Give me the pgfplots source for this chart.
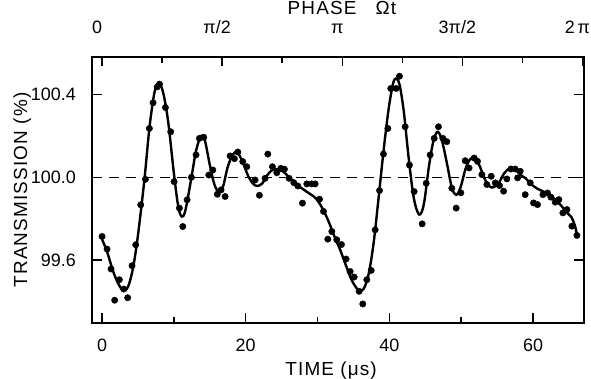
\documentclass[border=0pt]{standalone}
\usepackage{fontspec}
\setmainfont{Liberation Sans}
\newfontfamily\tkfont{Liberation Sans}
\newfontfamily\labfont[LetterSpace=6]{Liberation Sans}
\usepackage{pgfplots}
\pgfplotsset{compat=1.18}
\begin{document}
\begin{tikzpicture}
\path[use as bounding box] (-92bp,-56bp) rectangle (499bp,323bp);
\begin{axis}[
  at={(0,0)}, anchor=south west,
  scale only axis, width=492bp, height=266bp,
  xmin=-1.4, xmax=67.1, ymin=99.296, ymax=100.581,
  axis line style={line width=1.7bp},
  xtick={0,20,40,60}, minor xtick={10,30,50}, xtick pos=left,
  ytick={99.6,100.0,100.4}, yticklabels={,,}, ytick pos=both,
  tick align=inside,
  major tick length=10bp, minor tick length=6bp,
  every tick/.style={black, line width=1.4bp},
  xticklabels={0,20,40,60},
  xticklabel style={font=\fontsize{18}{20}\tkfont, anchor=base, yshift=-28bp},
  xlabel={TIME (μs)},
  xlabel style={at={(axis description cs:0.486,-0.199)}, anchor=base, font=\fontsize{19}{22}\labfont},
  ylabel={TRANSMISSION (\%)},
  ylabel style={at={(axis description cs:-0.132,0.5)}, anchor=base, font=\fontsize{19}{22}\labfont},
  clip=true,
]
\addplot[black, line width=1.2bp, dash pattern=on 10bp off 7bp] coordinates {(-1.4,100) (67.1,100)};
\addplot[black, line width=2.4bp, smooth, tension=0.55] coordinates {
(0.0,99.70) (0.7,99.64) (1.5,99.55) (2.2,99.49) (2.9,99.455) (3.6,99.47) (4.3,99.56) (5.0,99.72)
(5.9,99.99) (6.6,100.24) (7.3,100.41) (7.9,100.456) (8.5,100.41) (9.2,100.27) (10.0,100.02)
(10.6,99.86) (11.1,99.81) (11.6,99.84) (12.4,99.99) (13.1,100.13) (13.8,100.20) (14.3,100.18)
(15.0,100.06) (15.6,99.97) (16.2,99.93) (16.8,99.95) (17.5,100.05) (18.2,100.11) (18.8,100.12)
(19.5,100.08) (20.3,100.01) (21.0,99.97) (21.6,99.958) (22.3,99.97) (23.0,100.01) (23.7,100.035)
(24.5,100.038) (25.3,100.025) (26.2,99.995) (27.3,99.96) (28.5,99.93) (29.7,99.90) (30.6,99.855)
(31.5,99.79) (32.4,99.71) (33.2,99.645) (34.0,99.57) (34.8,99.50) (35.7,99.455) (36.4,99.46)
(37.1,99.53) (37.8,99.68) (38.5,99.90) (39.2,100.13) (39.9,100.33) (40.5,100.45) (40.9,100.477)
(41.4,100.45) (42.0,100.32) (42.7,100.09) (43.4,99.90) (44.15,99.82) (44.8,99.87) (45.5,100.05)
(46.1,100.17) (46.7,100.22) (47.3,100.18) (48.0,100.07) (48.7,99.95) (49.3,99.915) (49.9,99.95)
(50.6,100.04) (51.2,100.085) (51.8,100.096) (52.5,100.06) (53.3,99.99) (54.0,99.955) (54.5,99.952)
(55.2,99.97) (56.0,100.02) (56.85,100.045) (57.6,100.035) (58.3,100.01) (58.9,99.997) (59.8,99.965)
(60.6,99.945) (61.5,99.93) (62.5,99.91) (63.3,99.885) (64.0,99.86) (64.7,99.83) (65.3,99.81)
(65.8,99.77) (66.1,99.725)
};
\addplot[only marks, mark=*, mark size=3.2bp, black] coordinates {
(0.00,99.714) (0.70,99.653) (1.25,99.557) (1.76,99.406) (2.41,99.505) (3.02,99.460) (3.57,99.418)
(4.18,99.573) (4.69,99.674) (5.38,99.867) (6.04,99.990) (6.59,100.236) (7.10,100.360) (7.70,100.437)
(8.00,100.450) (8.82,100.337) (9.56,100.220) (10.03,99.979) (10.77,99.851) (11.24,99.762)
(11.84,99.891) (12.44,100.000) (13.09,100.108) (13.55,100.188) (14.16,100.193) (14.86,100.011)
(15.42,100.035) (16.05,99.918) (16.57,99.939) (17.13,99.907) (17.83,100.103) (18.43,100.090)
(18.90,100.122) (19.59,100.076) (20.15,100.051) (21.31,99.987) (21.91,99.913) (22.70,99.995)
(23.08,100.112) (23.72,100.051) (24.33,100.022) (24.88,100.043) (25.39,100.039) (26.04,99.995)
(26.69,99.974) (27.25,99.958) (27.90,99.875) (28.51,99.968) (29.20,99.968) (29.67,99.968)
(30.27,99.894) (30.83,99.835) (31.43,99.701) (31.99,99.738) (32.68,99.698) (33.33,99.675)
(33.98,99.605) (34.54,99.545) (35.10,99.518) (35.79,99.449) (36.30,99.388) (36.86,99.505)
(37.47,99.550) (38.02,99.746) (38.63,99.936) (39.18,100.112) (39.79,100.236) (40.20,100.429)
(40.95,100.429) (41.41,100.488) (42.20,100.244) (42.80,100.059) (43.45,99.931) (44.57,99.775)
(45.13,99.971) (45.68,100.108) (46.24,100.188) (46.84,100.244) (47.45,100.188) (48.00,100.172)
(48.70,99.947) (49.30,99.851) (49.95,99.925) (50.56,100.080) (51.10,100.045) (51.81,100.093)
(52.27,100.077) (52.88,100.013) (53.58,99.965) (54.18,100.005) (54.74,99.973) (55.34,99.960)
(55.90,99.933) (56.36,99.992) (56.92,100.040) (57.52,100.040) (57.85,99.997) (58.22,100.029)
(58.91,99.916) (59.61,99.973) (60.07,99.876) (60.63,99.868) (61.38,99.916) (62.02,99.924)
(62.49,99.904) (63.09,99.880) (63.60,99.892) (64.16,99.828) (64.72,99.844) (65.41,99.764)
(66.11,99.719)
};
\end{axis}
\begin{axis}[
  at={(0,0)}, anchor=south west,
  scale only axis, width=492bp, height=266bp,
  xmin=-1.4, xmax=67.1, ymin=99.296, ymax=100.581,
  axis x line*=top, axis y line*=left,
  axis line style={line width=1.7bp},
  xtick={0,16.72,33.44,50.16,66.88}, xticklabels={0,π/2,π,3π/2,2\,π},
  minor xtick={8.36,25.08,41.8,58.52},
  ytick={99.6,100.0,100.4}, yticklabels={99.6,100.0,100.4},
  tick align=inside,
  major tick length=9bp, minor tick length=6bp,
  every tick/.style={black, line width=1.4bp},
  xticklabel style={font=\fontsize{18}{20}\tkfont, anchor=base, yshift=23bp, xshift=-5bp},
  yticklabel style={font=\fontsize{18}{20}\tkfont, anchor=east, inner sep=0pt, xshift=-16bp},
  xlabel={PHASE\ \ \ Ωt},
  xlabel style={at={(axis description cs:0.508,1.158)}, anchor=base, font=\fontsize{19}{22}\labfont},
]
\end{axis}
\end{tikzpicture}
\end{document}
